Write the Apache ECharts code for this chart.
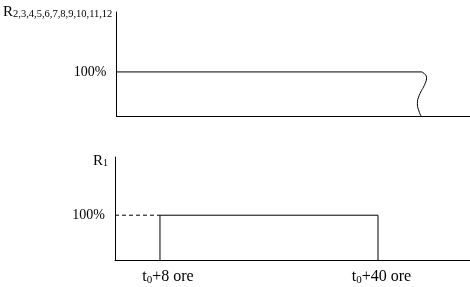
<!DOCTYPE html>
<html>
<head>
<meta charset="utf-8">
<script src="https://cdn.jsdelivr.net/npm/echarts@6/dist/echarts.min.js"></script>
<style>html,body{margin:0;padding:0;background:#fff}#c{width:470px;height:287px}</style>
</head>
<body>
<div id="c"></div>
<script>
// x in hours after t0, y in percent
var xTicks = [8, 40];
var yTicks = [100];
var topLevelLine = [[1.4, 100], [46.4, 100]];
var topBreakCurve = [[46.4, 100], [47.1, 88], [46.9, 74], [46.0, 46], [45.75, 28], [46.05, 8], [46.3, 0]];
var bottomDashed = [[1.4, 100], [8, 100]];
var bottomPulse = [[8, 0], [8, 100], [40, 100], [40, 0]];
var topName = ['R', '2,3,4,5,6,7,8,9,10,11,12'];
var bottomName = ['R', '1'];

var FONT = '"Liberation Serif", "Times New Roman", serif';
var chart = echarts.init(document.getElementById('c'), null, {renderer: 'canvas'});
var axisLine = {show: true, onZero: false, lineStyle: {color: '#000', width: 1}};
function xAxis(idx, labels) {
  return {
    type: 'value', gridIndex: idx, min: 1.4, max: 53.5,
    axisLine: axisLine, axisTick: {show: false}, splitLine: {show: false},
    axisLabel: labels ? {
      show: true, customValues: xTicks, margin: 9, color: '#000',
      formatter: function (v) {
        return '{p' + v + '|}{t|t}{z|0}{t|+' + v + ' ore}';
      },
      rich: {
        t: {fontFamily: FONT, fontSize: 16, lineHeight: 16, color: '#000', verticalAlign: 'middle'},
        z: {fontFamily: FONT, fontSize: 11, lineHeight: 11, padding: [7, 0, 0, 0], color: '#000', verticalAlign: 'middle'},
        p8: {width: 16},
        p40: {width: 7}
      }
    } : {show: false}
  };
}
function yAxis(idx, max, name, sub, subPad, rightPad, gap, subSize) {
  return {
    type: 'value', gridIndex: idx, min: 0, max: max,
    axisLine: axisLine, axisTick: {show: false}, splitLine: {show: false},
    axisLabel: {
      show: true, customValues: yTicks, margin: 10, color: '#000',
      fontFamily: FONT, fontSize: 14,
      formatter: function (v) { return v + '%'; }
    },
    name: '{r|' + name + '}{s|' + sub + '}',
    nameLocation: 'end', nameGap: gap,
    nameTextStyle: {
      align: 'right', verticalAlign: 'middle', padding: [0, rightPad, 0, 0],
      rich: {
        r: {fontFamily: FONT, fontSize: 15, lineHeight: 15, color: '#000', verticalAlign: 'top'},
        s: {fontFamily: FONT, fontSize: subSize, lineHeight: subSize, padding: [subPad, 0, 0, 0], color: '#000', verticalAlign: 'bottom'}
      }
    }
  };
}
var lineStyle = {color: '#000', width: 1};
chart.setOption({
  animation: false,
  backgroundColor: '#fff',
  grid: [
    {left: 115, top: 12, width: 355, height: 104},
    {left: 115, top: 157, width: 355, height: 103}
  ],
  xAxis: [xAxis(0, false), xAxis(1, true)],
  yAxis: [yAxis(0, 236, topName[0], topName[1], 6, 4, 0, 10.5), yAxis(1, 230, bottomName[0], bottomName[1], 4, 7, -4, 10)],
  series: [
    {type: 'line', xAxisIndex: 0, yAxisIndex: 0, data: topLevelLine, symbol: 'none', lineStyle: lineStyle, silent: true},
    {type: 'line', xAxisIndex: 0, yAxisIndex: 0, data: topBreakCurve, symbol: 'none', smooth: 0.5, lineStyle: lineStyle, silent: true},
    {type: 'line', xAxisIndex: 1, yAxisIndex: 1, data: bottomDashed, symbol: 'none', lineStyle: {color: '#000', width: 1, type: [4, 3]}, silent: true},
    {type: 'line', xAxisIndex: 1, yAxisIndex: 1, data: bottomPulse, symbol: 'none', lineStyle: lineStyle, silent: true}
  ]
});
</script>
</body>
</html>
